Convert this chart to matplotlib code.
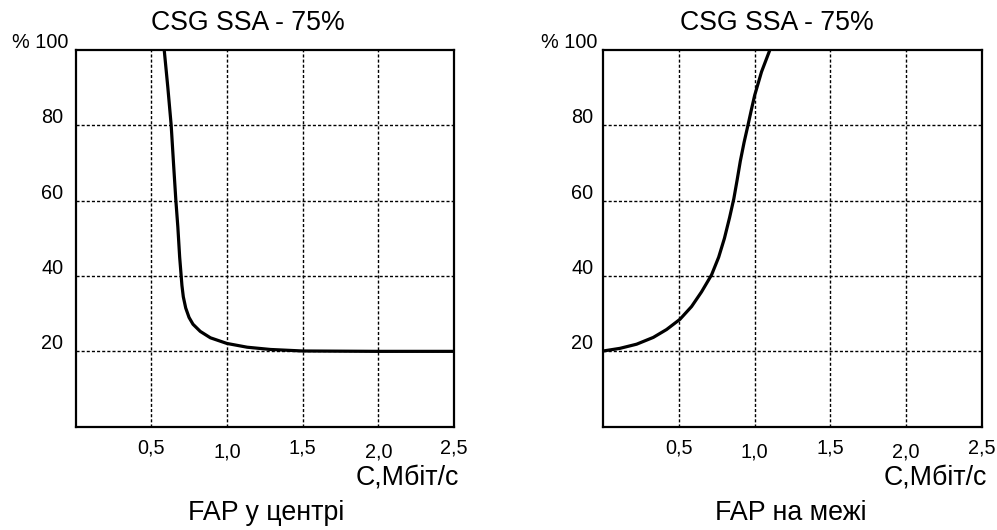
import matplotlib.pyplot as plt
from matplotlib.transforms import offset_copy

plt.rcParams['font.family'] = ['Liberation Sans', 'DejaVu Sans']

# Data
x_ticks = [0.5, 1.0, 1.5, 2.0, 2.5]
x_tick_labels = ['0,5', '1,0', '1,5', '2,0', '2,5']
y_ticks = [20, 40, 60, 80]
y_tick_labels = ['20', '40', '60', '80']

center_x = [0.586, 0.610, 0.632, 0.648, 0.663, 0.676, 0.688, 0.697, 0.703, 0.712,
            0.728, 0.750, 0.776, 0.824, 0.891, 1.0, 1.134, 1.288, 1.50, 2.0, 2.5]
center_y = [100, 90, 80, 69.5, 60, 53, 45, 40.5, 37.5, 34.5,
            31.5, 29.0, 27.2, 25.3, 23.6, 22.1, 21.1, 20.5, 20.1, 20.0, 20.0]

edge_x = [0.0, 0.110, 0.220, 0.330, 0.418, 0.506, 0.583, 0.649, 0.715, 0.762,
          0.800, 0.834, 0.862, 0.884, 0.905, 0.930, 0.957, 0.980, 1.0, 1.045, 1.10]
edge_y = [20.1, 20.8, 21.9, 23.7, 25.8, 28.5, 31.9, 35.8, 40.3, 45.0,
          50.0, 55.5, 60.5, 65.5, 70.5, 75.5, 80.3, 84.5, 88.0, 94.2, 100.0]

panels = [
    dict(x=center_x, y=center_y, left=75.5, title='CSG SSA - 75%', title_x=248,
         caption='FAP у центрі', caption_x=266, ylab_gap=12, top_gap=7),
    dict(x=edge_x, y=edge_y, left=603.3, title='CSG SSA - 75%', title_x=777,
         caption='FAP на межі', caption_x=791, ylab_gap=10, top_gap=6),
]

W, H = 997, 530
fig = plt.figure(figsize=(W / 100, H / 100), dpi=100)

ax_w, ax_top, ax_bot = 378.5, 50, 426.7

for p in panels:
    ax = fig.add_axes([p['left'] / W, (H - ax_bot) / H, ax_w / W, (ax_bot - ax_top) / H])
    ax.set_xlim(0, 2.5)
    ax.set_ylim(0, 100)
    for s in ax.spines.values():
        s.set_linewidth(1.6)
    ax.set_xticks(x_ticks[:-1])
    ax.set_yticks(y_ticks)
    ax.tick_params(length=0, labelbottom=False, labelleft=False)
    ax.grid(True, color='black', linestyle=(0, (2.2, 1.5)), linewidth=1.0)
    ax.plot(p['x'], p['y'], color='black', linewidth=2.3, solid_capstyle='butt',
            solid_joinstyle='round', zorder=3)

    # x tick labels, alternating slightly in height as in the original
    for i, (v, lab) in enumerate(zip(x_ticks, x_tick_labels)):
        dy = -21 if i % 2 == 0 else -25
        tr = offset_copy(ax.get_xaxis_transform(), fig=fig, x=0, y=dy * 0.72, units='points')
        ax.text(v, 0, lab, transform=tr, ha='center', va='center', fontsize=14.3)

    # y tick labels sit a little above their grid lines
    for v, lab in zip(y_ticks, y_tick_labels):
        tr = offset_copy(ax.get_yaxis_transform(), fig=fig, x=-p['ylab_gap'] * 0.72,
                         y=7.5 * 0.72, units='points')
        ax.text(0, v, lab, transform=tr, ha='right', va='center', fontsize=14.3)
    tr = offset_copy(ax.get_yaxis_transform(), fig=fig, x=-p['top_gap'] * 0.72,
                     y=8 * 0.72, units='points')
    ax.text(0, 100, '% 100', transform=tr, ha='right', va='center', fontsize=14.3)

    right_px = p['left'] + ax_w
    fig.text((right_px + 5) / W, 1 - 477 / H, 'С,Мбіт/с', ha='right', va='center',
             fontsize=19.3)
    fig.text(p['title_x'] / W, 1 - 23 / H, p['title'], ha='center', va='center',
             fontsize=19.2)
    fig.text(p['caption_x'] / W, 1 - 513 / H, p['caption'], ha='center', va='center',
             fontsize=19.3)

fig.savefig('out.png', dpi=100)
